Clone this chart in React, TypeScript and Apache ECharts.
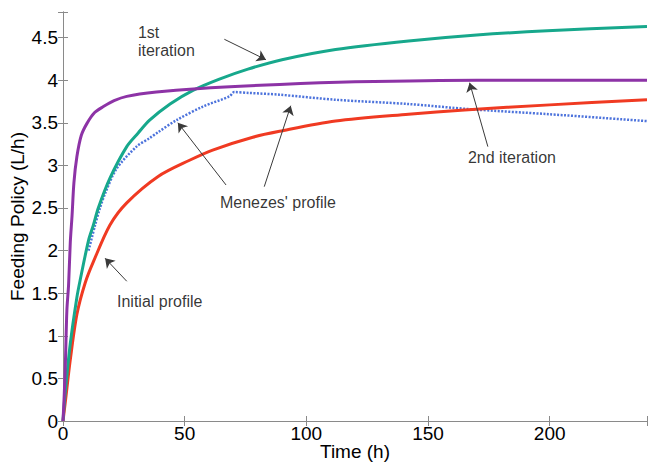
import React, { useEffect, useRef } from "react";
import * as echarts from "echarts";

// Initial profile (red)
const initialX = [0, 0.9, 3, 5.7, 9.1, 12.5, 19.3, 26.2, 39.1, 52, 61.5, 78, 89, 112, 142, 165, 200, 240];
const initialY = [0, 0.21, 0.72, 1.25, 1.62, 1.87, 2.3, 2.56, 2.87, 3.06, 3.18, 3.33, 3.4, 3.52, 3.6, 3.65, 3.71, 3.77];

// 1st iteration (green)
const firstX = [0, 0.9, 3, 5.7, 7.1, 10.5, 12.5, 14.5, 19.3, 26.2, 30.9, 35.6, 44, 53.4, 64, 76, 90, 112, 142, 170, 199, 240];
const firstY = [0, 0.33, 0.91, 1.45, 1.66, 2.12, 2.3, 2.5, 2.85, 3.22, 3.38, 3.53, 3.72, 3.88, 4.01, 4.13, 4.24, 4.36, 4.46, 4.53, 4.58, 4.63];

// 2nd iteration (purple)
const secondX = [0, 0.5, 1, 1.6, 2.3, 3, 3.7, 4.5, 5.7, 7.5, 9.8, 13, 16.6, 21, 26.2, 38.4, 55, 89, 120, 170, 240];
const secondY = [0, 0.3, 0.7, 1.3, 1.6, 2.1, 2.4, 2.8, 3.1, 3.35, 3.49, 3.62, 3.69, 3.76, 3.81, 3.86, 3.9, 3.95, 3.98, 4.0, 4.0];

// Menezes' profile (blue dotted)
const menezesX = [10.5, 13.2, 15.2, 17.3, 22, 30.2, 35.6, 39.1, 46.6, 57.5, 68.4, 70.4, 76.5, 88.8, 112, 142, 167, 200, 240];
const menezesY = [2.0, 2.3, 2.5, 2.67, 2.96, 3.22, 3.32, 3.39, 3.53, 3.69, 3.81, 3.86, 3.85, 3.83, 3.77, 3.72, 3.66, 3.6, 3.52];

// Axis ticks
const xTicks = [0, 50, 100, 150, 200];
const yTicks = [0, 0.5, 1, 1.5, 2, 2.5, 3, 3.5, 4, 4.5];

// Annotations (data coordinates)
const annotationTexts = ["1st\niteration", "2nd iteration", "Menezes' profile", "Initial profile"];
const annotationPos = [[30.8, 4.45], [166.4, 3.09], [64.5, 2.56], [22.2, 1.4]];
const arrows = [
  [[66.3, 4.48], [83.4, 4.24]],
  [[174.6, 3.22], [167.1, 3.97]],
  [[67.0, 2.77], [47.2, 3.5]],
  [[82.7, 2.75], [93.6, 3.7]],
  [[26.2, 1.64], [17.3, 1.91]],
];

const zip = (xs: number[], ys: number[]) => xs.map((x, i) => [x, ys[i]]);

export default function App() {
  const ref = useRef<HTMLDivElement>(null);
  useEffect(() => {
    document.body.style.margin = "0";
    const chart = echarts.init(ref.current!, undefined, { renderer: "svg" });
    const font = "Liberation Sans, Arial, sans-serif";
    const axisLine = { show: true, lineStyle: { color: "#8a8a8a", width: 1 } };
    const tick = { show: true, inside: true, length: 5, lineStyle: { color: "#8a8a8a" } };
    chart.setOption({
      animation: false,
      backgroundColor: "#ffffff",
      textStyle: { fontFamily: font },
      grid: { left: 63, top: 12, right: 4, bottom: 42, containLabel: false, outerBoundsMode: "none" },
      xAxis: [
        {
          type: "value",
          min: 0,
          max: 240,
          interval: 50,
          name: "Time (h)",
          nameLocation: "middle",
          nameGap: 21,
          nameMoveOverlap: false,
          nameTextStyle: { fontSize: 19, color: "#000", fontFamily: font },
          axisLine,
          axisTick: tick,
          axisLabel: {
            fontSize: 19,
            color: "#000",
            margin: 3,
            fontFamily: font,
            formatter: (v: number) => (xTicks.includes(v) ? String(v) : ""),
          },
          splitLine: { show: false },
        },
        {
          type: "value",
          position: "top",
          min: 0,
          max: 240,
          interval: 50,
          axisLine,
          axisTick: tick,
          axisLabel: { show: false },
          splitLine: { show: false },
        },
      ],
      yAxis: [
        {
          type: "value",
          min: 0,
          max: 4.8,
          interval: 0.5,
          name: "Feeding Policy (L/h)",
          nameLocation: "middle",
          nameGap: 36,
          nameMoveOverlap: false,
          nameTextStyle: { fontSize: 19, color: "#000", fontFamily: font },
          axisLine,
          axisTick: tick,
          axisLabel: {
            fontSize: 19,
            color: "#000",
            margin: 5,
            fontFamily: font,
            formatter: (v: number) => (yTicks.includes(v) ? String(v) : ""),
          },
          splitLine: { show: false },
        },
        {
          type: "value",
          position: "right",
          min: 0,
          max: 4.8,
          interval: 0.5,
          axisLine,
          axisTick: tick,
          axisLabel: { show: false },
          splitLine: { show: false },
        },
      ],
      series: [
        {
          type: "line",
          name: "Initial profile",
          data: zip(initialX, initialY),
          showSymbol: false,
          smooth: 0.3,
          lineStyle: { color: "#f03a22", width: 3 },
          z: 3,
        },
        {
          type: "line",
          name: "Menezes' profile",
          data: zip(menezesX, menezesY),
          showSymbol: false,
          smooth: 0.3,
          lineStyle: { color: "#4d73dc", width: 2.5, type: [2, 1.5] },
          z: 2,
        },
        {
          type: "line",
          name: "1st iteration",
          data: zip(firstX, firstY),
          showSymbol: false,
          smooth: 0.3,
          lineStyle: { color: "#17a88c", width: 3 },
          z: 4,
        },
        {
          type: "line",
          name: "2nd iteration",
          data: zip(secondX, secondY),
          showSymbol: false,
          smooth: 0.3,
          lineStyle: { color: "#8d33a6", width: 3 },
          z: 5,
        },
        {
          type: "lines",
          coordinateSystem: "cartesian2d",
          data: arrows.map((c) => ({ coords: c })),
          symbol: ["none", "arrow"],
          symbolSize: 9,
          lineStyle: { color: "#3a3a3a", width: 1, opacity: 1, curveness: 0 },
          z: 6,
        },
        {
          type: "scatter",
          symbolSize: 0,
          data: annotationPos.map((p, i) => ({ value: p, name: annotationTexts[i] })),
          label: {
            show: true,
            position: "right",
            distance: 0,
            formatter: (p: any) => p.name,
            fontSize: 16,
            lineHeight: 18,
            color: "#000",
            fontFamily: font,
          },
          silent: true,
          z: 7,
        },
      ],
    });
    return () => chart.dispose();
  }, []);
  return (
    <div style={{ position: "absolute", left: 0, top: 0, width: 648, height: 463, overflow: "hidden" }}>
      <div ref={ref} style={{ width: 651, height: 463 }} />
    </div>
  );
}
